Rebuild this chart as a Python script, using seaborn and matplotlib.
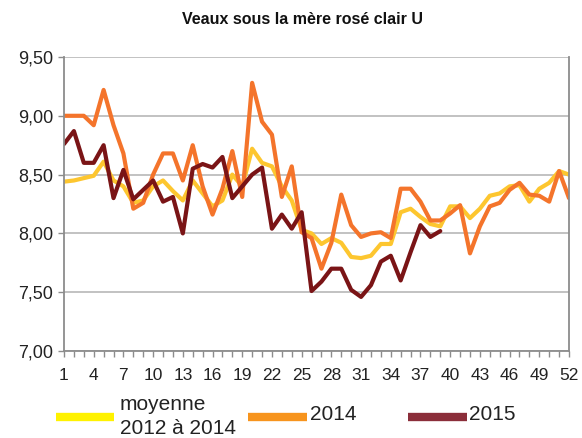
import matplotlib
matplotlib.use("Agg")
import matplotlib.pyplot as plt
from matplotlib.lines import Line2D
import seaborn as sns
import pandas as pd

weeks = list(range(1, 53))
moyenne = [8.44, 8.45, 8.47, 8.49, 8.61, 8.45, 8.40, 8.26, 8.28, 8.40,
           8.45, 8.36, 8.28, 8.45, 8.34, 8.23, 8.28, 8.50, 8.40, 8.72,
           8.60, 8.57, 8.40, 8.28, 8.03, 8.00, 7.91, 7.96, 7.92, 7.80,
           7.79, 7.81, 7.91, 7.91, 8.18, 8.21, 8.14, 8.08, 8.06, 8.23,
           8.23, 8.13, 8.21, 8.32, 8.34, 8.40, 8.41, 8.27, 8.38, 8.43,
           8.53, 8.50]
y2014 = [9.00, 9.00, 9.00, 8.92, 9.22, 8.92, 8.68, 8.21, 8.26, 8.50,
         8.68, 8.68, 8.45, 8.75, 8.40, 8.16, 8.38, 8.70, 8.31, 9.28,
         8.95, 8.84, 8.31, 8.57, 8.01, 7.96, 7.70, 7.92, 8.33, 8.07,
         7.97, 8.00, 8.01, 7.96, 8.38, 8.38, 8.27, 8.11, 8.11, 8.17,
         8.24, 7.83, 8.06, 8.23, 8.26, 8.37, 8.43, 8.33, 8.32, 8.27,
         8.53, 8.30]
y2015 = [8.76, 8.87, 8.60, 8.60, 8.75, 8.30, 8.54, 8.29, 8.37, 8.45,
         8.27, 8.31, 8.00, 8.55, 8.59, 8.56, 8.65, 8.30, 8.40, 8.50,
         8.56, 8.04, 8.16, 8.04, 8.18, 7.51, 7.59, 7.70, 7.70, 7.52,
         7.46, 7.56, 7.76, 7.81, 7.60, 7.84, 8.07, 7.97, 8.02]
yticks = [7.0, 7.5, 8.0, 8.5, 9.0, 9.5]
xlabel_weeks = list(range(1, 53, 3))
title = "Veaux sous la mère rosé clair U"
legend_labels = ["moyenne\n2012 à 2014", "2014", "2015"]

sns.set_theme(style="white")
plt.rcParams['font.family'] = ['Liberation Sans', 'DejaVu Sans']

W, H = 582, 438
fig = plt.figure(figsize=(W / 100, H / 100), dpi=100)
ax = fig.add_axes([64 / W, 1 - 351 / H, (569 - 64) / W, (351 - 57) / H])

c_moy = "#FDC62F"
c_2014 = "#F4742B"
c_2015 = "#7A1416"

df_m = pd.DataFrame({"week": weeks, "val": moyenne})
df_a = pd.DataFrame({"week": weeks, "val": y2014})
df_b = pd.DataFrame({"week": weeks[:len(y2015)], "val": y2015})

lw = 3.0
sns.lineplot(data=df_m, x="week", y="val", ax=ax, color=c_moy, lw=lw)
sns.lineplot(data=df_a, x="week", y="val", ax=ax, color=c_2014, lw=lw)
sns.lineplot(data=df_b, x="week", y="val", ax=ax, color=c_2015, lw=lw)

ax.set_xlim(1, 52)
ax.set_ylim(7.0, 9.5)
ax.set_yticks(yticks)
ax.set_yticklabels([f"{v:.2f}".replace(".", ",") for v in yticks], fontsize=13, color="#222222")
ax.set_xticks(weeks)
ax.set_xticklabels([str(w) if w in xlabel_weeks else "" for w in weeks], fontsize=12.5, color="#222222")
ax.set_xlabel("")
ax.set_ylabel("")
ax.grid(axis="y", color="#BDBDBD", lw=1.3)
ax.grid(axis="x", visible=False)
for s in ["left", "bottom", "right"]:
    ax.spines[s].set_visible(True)
    ax.spines[s].set_color("#8C8C8C")
    ax.spines[s].set_linewidth(1.3)
ax.spines["top"].set_visible(False)
ax.tick_params(axis="both", which="major", direction="out", length=4, width=1,
               color="#8C8C8C", bottom=True, left=True, pad=4)
ax.tick_params(axis="x", pad=8)

fig.text(303 / W, 1 - 20 / H, title, ha="center", va="center",
         fontsize=11.5, fontweight="bold", color="#111111")

# Legend
leg_cols = ["#FFF200", "#F7941D", "#8B2E3A"]
handles = [(56, 114), (248, 307), (408, 467)]
hy = 1 - 417 / H
for (x0, x1), col in zip(handles, leg_cols):
    fig.add_artist(Line2D([x0 / W, x1 / W], [hy, hy], transform=fig.transFigure,
                          color=col, lw=6, solid_capstyle="butt"))
fig.text(120 / W, 1 - 405 / H, "moyenne", ha="left", va="center", fontsize=15, color="#222222")
fig.text(120 / W, 1 - 429 / H, "2012 à 2014", ha="left", va="center", fontsize=15, color="#222222")
fig.text(310 / W, 1 - 415 / H, legend_labels[1], ha="left", va="center", fontsize=15, color="#222222")
fig.text(469 / W, 1 - 415 / H, legend_labels[2], ha="left", va="center", fontsize=15, color="#222222")

fig.savefig("out.png", dpi=100)
